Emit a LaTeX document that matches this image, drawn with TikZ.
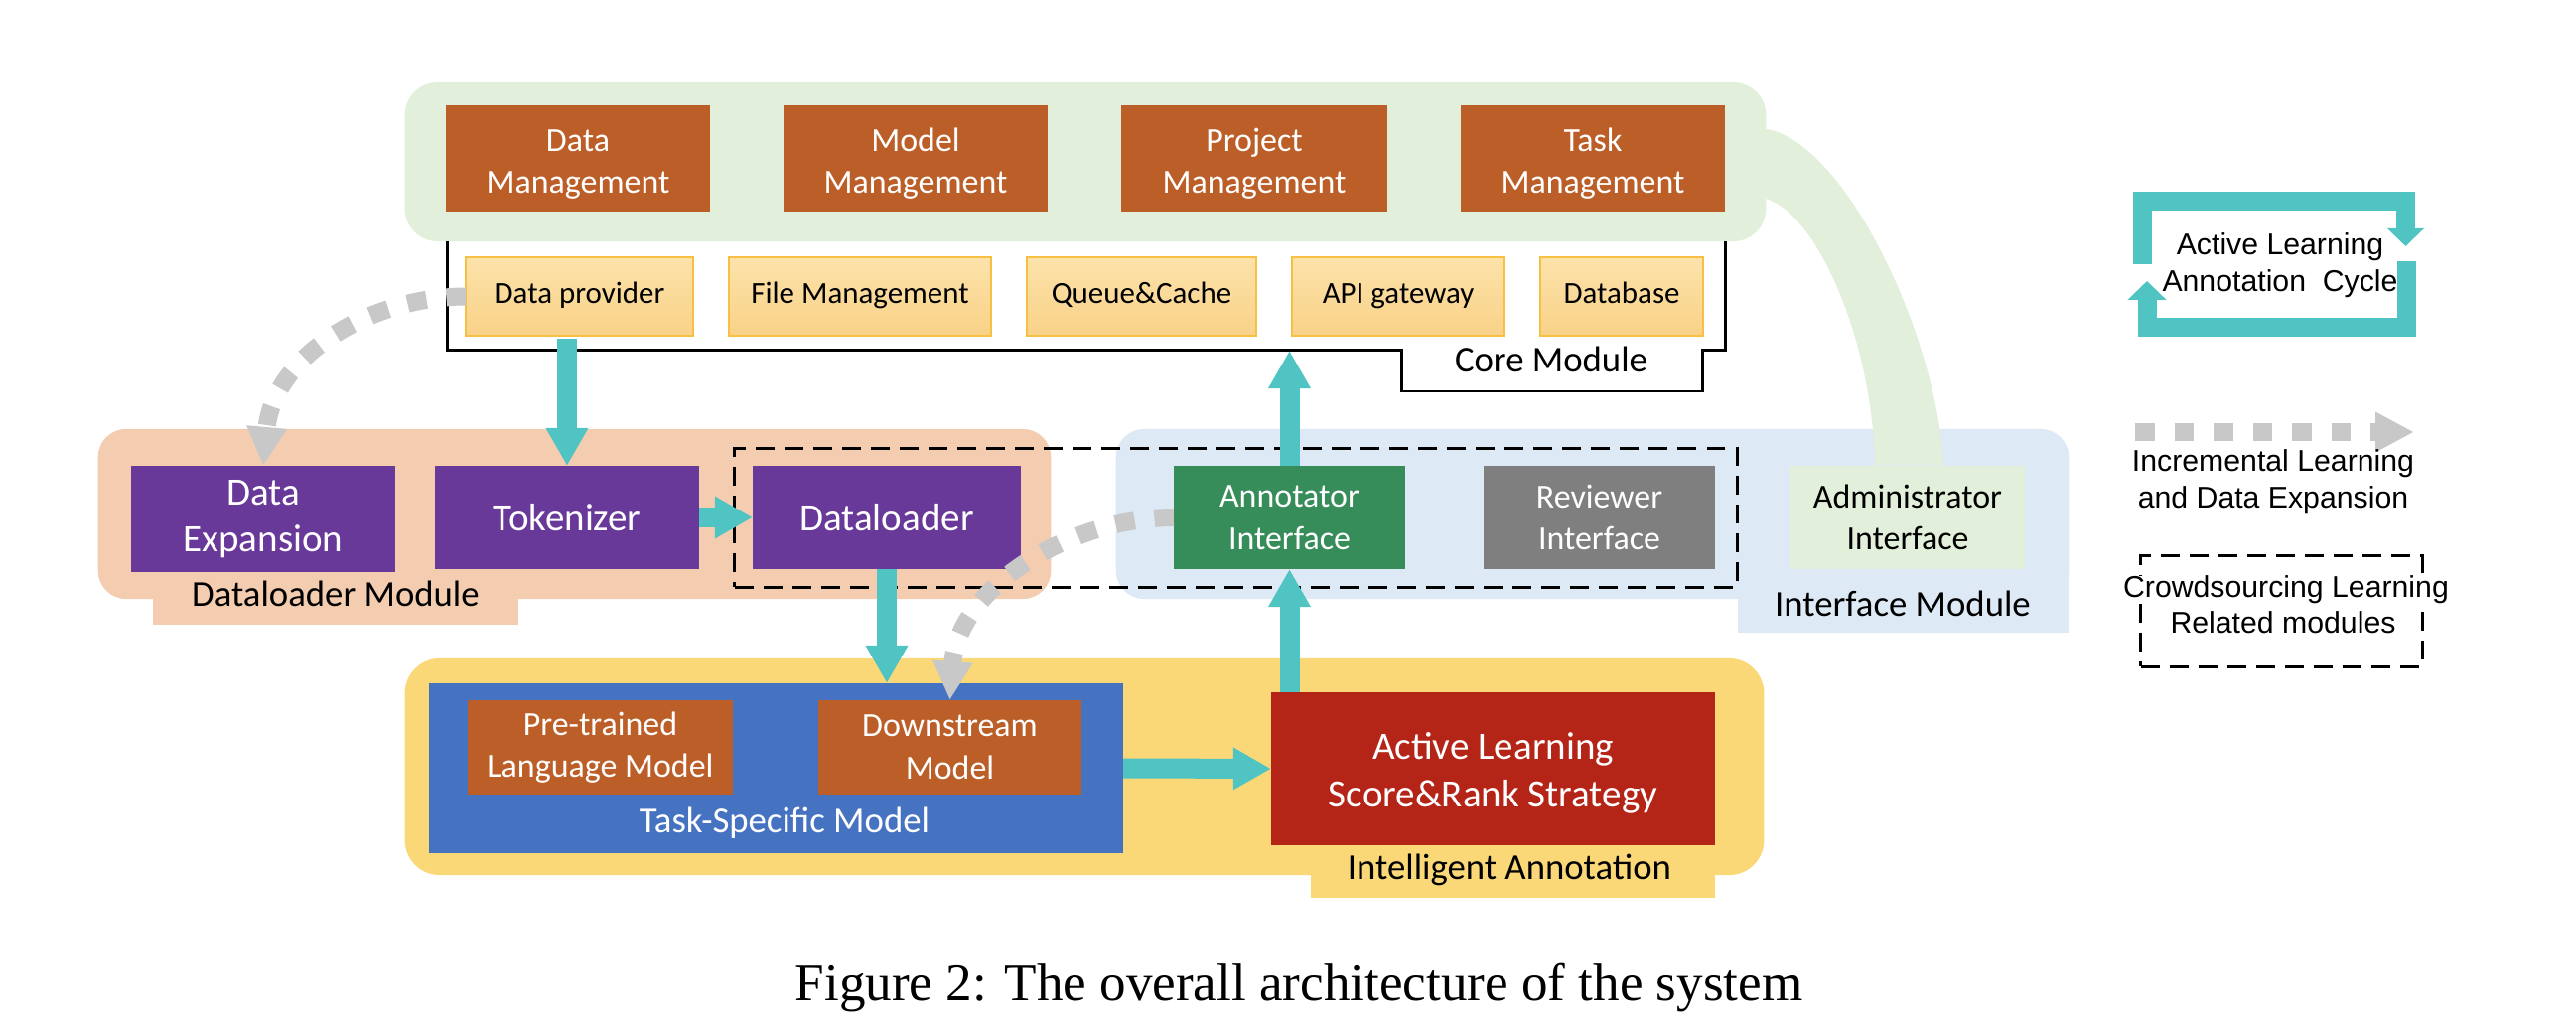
\documentclass[tikz,border=0pt]{standalone}
\usepackage{fontspec}
\setmainfont{Carlito}
\newfontfamily\legendfont{Liberation Sans}
\newfontfamily\capfont{Liberation Serif}
\usetikzlibrary{arrows.meta}
\definecolor{greenlt}{HTML}{E2EFDA}
\definecolor{orangeD}{HTML}{BC5E28}
\definecolor{ylwTop}{HTML}{FCE2AA}
\definecolor{ylwBot}{HTML}{F9D288}
\definecolor{ylwBorder}{HTML}{F6C143}
\definecolor{salmon}{HTML}{F4CCB0}
\definecolor{purpleD}{HTML}{69399A}
\definecolor{ltblue}{HTML}{DDEAF6}
\definecolor{annotgreen}{HTML}{378D59}
\definecolor{grayD}{HTML}{7F7F7F}
\definecolor{yellowM}{HTML}{FAD878}
\definecolor{blueM}{HTML}{4673C1}
\definecolor{redM}{HTML}{B42417}
\definecolor{tealC}{HTML}{50C3C3}
\definecolor{dashgray}{HTML}{C8C8C8}
\newcommand{\mystrut}[1]{\rule{0pt}{#1}}
\begin{document}
\begin{tikzpicture}[x=0.01cm,y=-0.01cm,
  box/.style={inner sep=0pt,outer sep=0pt,align=center},
  fmid/.style={font=\fontsize{9.65}{12.1}\selectfont},
  fsmall/.style={font=\fontsize{8.8}{10.6}\selectfont},
  fbig/.style={font=\fontsize{11.1}{13.5}\selectfont},
  flabel/.style={font=\fontsize{10.45}{12.5}\selectfont},
  flegend/.style={font=\legendfont\fontsize{8.6}{10.5}\selectfont},
  mgmt/.style={box,fmid,fill=orangeD,text=white,minimum width=2.66cm,minimum height=1.07cm},
  smallbox/.style={inner sep=0pt,outer sep=0pt,fsmall,text height=0.21cm,text depth=0.06cm,top color=ylwTop,bottom color=ylwBot,draw=ylwBorder,line width=0.55pt,minimum height=0.79cm},
  purplebox/.style={box,fbig,fill=purpleD,text=white,minimum height=1.04cm},
  ifbox/.style={box,fmid,minimum width=2.33cm,minimum height=1.04cm},
  modlabel/.style={flabel,inner sep=0pt,anchor=base},
  crowd/.style={draw=black,line width=0.85pt,dash pattern=on 5.4pt off 2.85pt},
  tealarrow/.style={draw=tealC,line width=5.69pt,-{Triangle[width=11.38pt,length=10.81pt]}},
  grayarrow/.style={draw=dashgray,line width=5.12pt,dash pattern=on 5.55pt off 5.69pt,-{Triangle[width=10.8pt,length=11.1pt]}}
]
\useasboundingbox (0,0) rectangle (2594,1028);

% ---------------- Core module ----------------
\node[box,fill=greenlt,rounded corners=9.4pt,minimum width=13.70cm,minimum height=1.60cm] (coretop) at (1093,163) {};
\node[box,minimum width=12.87cm,minimum height=1.10cm] (coremod) at (1093.5,298) {};
\draw[line width=0.85pt] (450,243) -- (450,353) -- (1411,353) -- (1411,394) -- (1714,394) -- (1714,353) -- (1737,353) -- (1737,243);
\node[modlabel] (corelab) at (1562,375) {Core Module};

\node[mgmt] (dm) at (582,159.5) {\mystrut{0.34cm}Data\\Management};
\node[mgmt] (mm) at (922,159.5) {\mystrut{0.34cm}Model\\Management};
\node[mgmt,minimum width=2.68cm] (pm) at (1263,159.5) {\mystrut{0.34cm}Project\\Management};
\node[mgmt] (tm) at (1604,159.5) {\mystrut{0.34cm}Task\\Management};

\node[smallbox,minimum width=2.29cm] (dp) at (583.5,298.5) {Data provider};
\node[smallbox,minimum width=2.64cm] (fm) at (866,298.5) {File Management};
\node[smallbox,minimum width=2.31cm] (qc) at (1149.5,298.5) {Queue\&Cache};
\node[smallbox,minimum width=2.14cm] (api) at (1408,298.5) {API gateway};
\node[smallbox,minimum width=1.64cm] (db) at (1633,298.5) {Database};

% ---------------- Dataloader module ----------------
\node[box,fill=salmon,rounded corners=8pt,minimum width=9.59cm,minimum height=1.71cm] (dlmod) at (578.5,517.5) {};
\fill[salmon] (154,575) rectangle (522,629);
\node[modlabel] (dllab) at (338,611) {Dataloader Module};
\node[purplebox,minimum width=2.66cm,minimum height=1.07cm] (de) at (265,522.5) {Data\\Expansion};
\node[purplebox,minimum width=2.66cm] (tok) at (571,521) {Tokenizer};
\node[purplebox,minimum width=2.70cm] (dl) at (893,521) {Dataloader};

% ---------------- Interface module ----------------
\node[box,fill=ltblue,rounded corners=8pt,minimum width=9.59cm,minimum height=1.71cm] (ifmod) at (1603.5,517.5) {};
\fill[ltblue] (1750,570) rectangle (2083,637);
\node[modlabel] (iflab) at (1916,620) {Interface Module};
% band from core module to administrator interface
\fill[greenlt] (1770,129) .. controls (1850,129) and (1950,330) .. (1957,468) -- (1888,468) .. controls (1885,330) and (1820,199) .. (1770,199) -- cycle;
\node[ifbox,fill=annotgreen,text=white] (annot) at (1298.5,521) {Annotator\\Interface};
\node[ifbox,fill=grayD,text=white] (rev) at (1610.5,521) {Reviewer\\Interface};
\node[ifbox,fill=greenlt,minimum width=2.36cm] (admin) at (1921,521) {Administrator\\Interface};

% crowdsourcing dashed region
\node[box,crowd,minimum width=10.09cm,minimum height=1.39cm] (crowdbox) at (1244.5,521.5) {};

% ---------------- Intelligent annotation ----------------
\node[box,fill=yellowM,rounded corners=10pt,minimum width=13.68cm,minimum height=2.18cm] (iamod) at (1092,772) {};
\fill[yellowM] (1320,850) rectangle (1727,904);
\node[modlabel] (ialab) at (1520,885) {Intelligent Annotation};
\node[box,fill=blueM,minimum width=6.99cm,minimum height=1.71cm] (blue) at (781.5,773.5) {};
\node[modlabel,text=white] (tslab) at (790,838) {Task-Specific Model};
\node[box,fmid,fill=orangeD,text=white,minimum width=2.67cm,minimum height=0.95cm] (plm) at (604.5,752.5) {Pre-trained\\Language Model};
\node[box,fmid,fill=orangeD,text=white,minimum width=2.65cm,minimum height=0.95cm] (ds) at (956.5,752.5) {Downstream\\Model};
\node[box,fill=redM,text=white,font=\fontsize{11.1}{13.7}\selectfont,minimum width=4.47cm,minimum height=1.54cm] (red) at (1503.5,774) {\mystrut{0.36cm}Active Learning\\Score\&Rank Strategy};

% ---------------- connectors ----------------
\draw[tealarrow] ([yshift=-0.03cm]tok.north |- dp.south) -- (tok.north);
\draw[tealarrow] (tok.east) -- (dl.west);
\draw[tealarrow] (dl.south) -- (dl.south |- blue.north);
\draw[tealarrow] (blue.east) -- (red.west);
\draw[tealarrow] (annot.south |- red.north) -- (annot.south);
\draw[tealarrow] (annot.north) -- (annot.north |- coremod.south);

\draw[grayarrow] (dp.west) .. controls (370,299) and (275,360) .. (de.north);
\draw[grayarrow] (annot.west) .. controls (1080,521) and (965,590) .. (ds.north);

% ---------------- legend ----------------
\coordinate (c1a) at (2157.5,266);
\coordinate (c1b) at (2157.5,202.5);
\coordinate (c1c) at (2422.5,202.5);
\coordinate (c1d) at (2422.5,248);
\draw[tealC,line width=5.4pt,-{Triangle[width=10.24pt,length=5.12pt]}] (c1a) -- (c1b) -- (c1c) -- (c1d);
\coordinate (c2a) at (2423,263);
\coordinate (c2b) at (2423,329.5);
\coordinate (c2c) at (2162,329.5);
\coordinate (c2d) at (2162,283);
\draw[tealC,line width=5.4pt,-{Triangle[width=10.8pt,length=5.4pt]}] (c2a) -- (c2b) -- (c2c) -- (c2d);
\node[flegend,align=center,inner sep=0pt] (legcycle) at (2296,267) {Active Learning\\Annotation\ \ Cycle};

\coordinate (lg1) at (2150,435);
\coordinate (lg2) at (2431,435);
\draw[grayarrow] (lg1) -- (lg2);
\node[flegend,align=center,inner sep=0pt] (leginc) at (2289,485.5) {Incremental Learning\\and Data Expansion};

\node[box,crowd,minimum width=2.83cm,minimum height=1.11cm] (legbox) at (2297.5,615.5) {};
\node[flegend,anchor=base,fill=white,inner sep=0pt,outer ysep=2pt] (legcrowd1) at (2302,602) {Crowdsourcing Learning};
\node[flegend,anchor=base,inner sep=0pt] (legcrowd2) at (2299,638) {Related modules};

% ---------------- caption ----------------
\node[anchor=base,inner sep=0pt,font=\capfont\fontsize{15.1}{18}\selectfont] (caption) at (1308,1007) {Figure 2: The overall architecture of the system};
\end{tikzpicture}
\end{document}
